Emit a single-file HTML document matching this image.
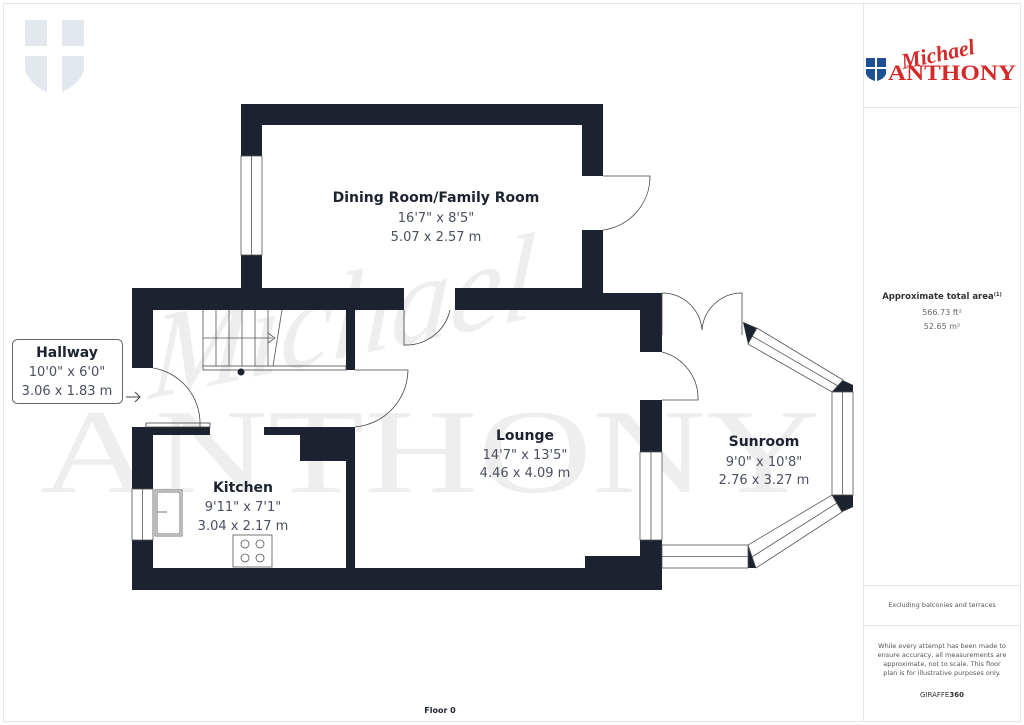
<!DOCTYPE html>
<html><head><meta charset="utf-8"><style>
html,body{margin:0;padding:0;background:#fff;}
svg{display:block;font-family:"DejaVu Sans","Liberation Sans",sans-serif;}
</style></head><body>
<svg width="1024" height="725" viewBox="0 0 1024 725" xmlns="http://www.w3.org/2000/svg">
<rect x="0" y="0" width="1024" height="725" fill="#fff"/>
<rect x="3.5" y="3.5" width="1017" height="718" fill="none" stroke="#e6e6e6"/>
<line x1="863.5" y1="3" x2="863.5" y2="722" stroke="#e6e6e6"/>
<line x1="863" y1="107.5" x2="1021" y2="107.5" stroke="#e6e6e6"/>
<line x1="863" y1="585.5" x2="1021" y2="585.5" stroke="#e6e6e6"/>
<line x1="863" y1="625.5" x2="1021" y2="625.5" stroke="#e6e6e6"/>

<!-- top-left shield watermark -->
<g fill="#e3e8ef">
<rect x="25" y="20" width="22" height="26"/><rect x="62" y="20" width="22" height="26"/>
<path d="M25 56 H47 V92 Q30 85 25 70 Z"/><path d="M62 56 H84 V70 Q79 85 62 92 Z"/>
</g>

<!-- big watermark -->
<g fill="#eeeeee">
<text x="230" y="345" font-family="Liberation Serif,serif" font-style="italic" font-size="120" transform="rotate(-12 400 320) skewX(-15)">Michael</text>
<text x="40" y="492" font-family="Liberation Serif,serif" font-size="120" textLength="780" lengthAdjust="spacingAndGlyphs">ANTHONY</text>
</g>

<!-- walls -->
<g fill="#1c2230">
<rect x="241" y="104" width="362" height="21"/>
<rect x="241" y="104" width="21" height="52"/>
<rect x="241" y="255" width="21" height="50"/>
<rect x="582" y="104" width="21" height="72"/>
<rect x="582" y="230" width="21" height="80"/>
<rect x="132" y="288" width="272" height="22"/>
<rect x="455" y="288" width="148" height="22"/>
<rect x="603" y="293" width="59" height="17"/>
<rect x="640" y="293" width="22" height="59"/>
<rect x="132" y="288" width="21" height="80"/>
<rect x="132" y="427" width="21" height="62"/>
<rect x="132" y="540" width="21" height="50"/>
<rect x="132" y="568" width="530" height="22"/>
<rect x="585" y="556" width="77" height="14"/>
<rect x="640" y="400" width="22" height="52"/>
<rect x="640" y="540" width="22" height="50"/>
<rect x="153" y="427" width="57" height="8"/>
<rect x="264" y="427" width="91" height="8"/>
<rect x="300" y="427" width="55" height="34"/>
<rect x="346" y="427" width="9" height="141"/>
<rect x="346" y="310" width="9" height="60"/>
<polygon points="743,322 757,328 748,344"/>
<polygon points="838,378 853,385 853,398 832,392"/>
<polygon points="832,495 853,495 853,507 842,512"/>
<polygon points="748,545 756,568 748,568"/>
</g>

<!-- windows -->
<g fill="#fff" stroke="#555" stroke-width="0.8">
<rect x="241" y="156" width="21" height="99"/><line x1="251.5" y1="156" x2="251.5" y2="255"/>
<rect x="132" y="489" width="21" height="51"/><line x1="142.5" y1="489" x2="142.5" y2="540"/>
<rect x="640" y="452" width="22" height="88"/><line x1="651" y1="452" x2="651" y2="540"/>
<rect x="662" y="545" width="86" height="23"/><line x1="662" y1="556.5" x2="748" y2="556.5"/>
<rect x="832" y="392" width="21" height="103"/><line x1="842.5" y1="392" x2="842.5" y2="495"/>
<polygon points="757,328 843,380 832,392 748,344"/>
<line x1="752" y1="336" x2="838" y2="386"/>
<polygon points="842,512 832,495 748,545 756,568"/>
<line x1="837" y1="503" x2="752" y2="557"/>
</g>

<!-- doors -->
<g fill="none" stroke="#444" stroke-width="0.8">
<path d="M603 176 H650 A54 54 0 0 1 603 230"/>
<path d="M404 310 V345 A45 45 0 0 0 450 310"/>
<path d="M662 293 V335 M662 293 A40 40 0 0 1 702 330 M742 293 V335 M742 293 A40 40 0 0 0 702 330"/>
<path d="M662 352 A48 48 0 0 1 698 400 H662"/>
<path d="M153 368 A56 56 0 0 1 200 425 V427"/>
<path d="M355 370 H408 A58 58 0 0 1 355 427"/>
<rect x="203" y="366" width="143" height="4"/>
<rect x="146" y="423" width="64" height="4"/>
</g>
<circle cx="241" cy="372" r="3.5" fill="#1c2230"/>

<!-- stairs -->
<g fill="none" stroke="#555" stroke-width="0.8">
<path d="M203 310 V366 M216 310 V366 M229 310 V366 M242 310 V366 M255 310 V366 M268 310 V366 M282 310 L273 366 M203 338 H273 M268 333 L275 338 L268 343"/>
</g>

<!-- kitchen fixtures -->
<g fill="#fff" stroke="#555" stroke-width="0.8">
<rect x="155" y="490" width="27" height="46"/><rect x="157" y="492" width="23" height="42"/>
<line x1="157" y1="512" x2="167" y2="512"/>
<rect x="233" y="535" width="39" height="32"/>
<circle cx="245" cy="544" r="4"/><circle cx="260" cy="544" r="4"/>
<circle cx="245" cy="558" r="4"/><circle cx="260" cy="558" r="4"/>
</g>

<!-- room labels -->
<g text-anchor="middle" fill="#1c2230">
<text x="436" y="202" font-size="14" font-weight="bold">Dining Room/Family Room</text>
<text x="436" y="222" font-size="13" fill="#4a5060">16'7" x 8'5"</text>
<text x="436" y="241" font-size="13" fill="#4a5060">5.07 x 2.57 m</text>
<text x="525" y="440" font-size="14" font-weight="bold">Lounge</text>
<text x="525" y="459" font-size="13" fill="#4a5060">14'7" x 13'5"</text>
<text x="525" y="477" font-size="13" fill="#4a5060">4.46 x 4.09 m</text>
<text x="243" y="492" font-size="14" font-weight="bold">Kitchen</text>
<text x="243" y="511" font-size="13" fill="#4a5060">9'11" x 7'1"</text>
<text x="243" y="530" font-size="13" fill="#4a5060">3.04 x 2.17 m</text>
<text x="764" y="446" font-size="14" font-weight="bold">Sunroom</text>
<text x="764" y="466" font-size="13" fill="#4a5060">9'0" x 10'8"</text>
<text x="764" y="484" font-size="13" fill="#4a5060">2.76 x 3.27 m</text>
</g>
<rect x="12.5" y="339.5" width="110" height="64" rx="5" fill="#fff" stroke="#666"/>
<g text-anchor="middle" fill="#1c2230">
<text x="67" y="357" font-size="14" font-weight="bold">Hallway</text>
<text x="67" y="376" font-size="13" fill="#4a5060">10'0" x 6'0"</text>
<text x="67" y="395" font-size="13" fill="#4a5060">3.06 x 1.83 m</text>
</g>
<path d="M126 397 H140 M135 392 L140 397 L135 402" fill="none" stroke="#444"/>

<text x="440" y="713" font-size="8" font-weight="bold" text-anchor="middle" fill="#1c2230">Floor 0</text>

<!-- logo -->
<g>
<rect x="866" y="58" width="9" height="9" fill="#1f4f95"/><rect x="877" y="58" width="9" height="9" fill="#1f4f95"/>
<path d="M866 69 H875 V81 Q868 79 866 74 Z M877 69 H886 V74 Q884 79 877 81 Z" fill="#1f4f95"/>
<text x="900" y="62" font-family="Liberation Serif,serif" font-style="italic" font-weight="bold" font-size="22" fill="#d42a2a" transform="rotate(-12 935 52)">Michael</text>
<text x="888" y="80" font-family="Liberation Serif,serif" font-weight="bold" font-size="22" fill="#d42a2a" textLength="128" lengthAdjust="spacingAndGlyphs">ANTHONY</text>
</g>

<!-- right panel text -->
<g text-anchor="middle" fill="#333">
<text x="942" y="299" font-size="8.5" font-weight="bold">Approximate total area<tspan font-size="5" dy="-3">(1)</tspan></text>
<text x="942" y="315" font-size="8" fill="#666">566.73 ft²</text>
<text x="942" y="329" font-size="8" fill="#666">52.65 m²</text>
<text x="942" y="607" font-size="6.5" fill="#555">Excluding balconies and terraces</text>
<text x="942" y="648" font-size="6.5" fill="#555">While every attempt has been made to</text>
<text x="942" y="657" font-size="6.5" fill="#555">ensure accuracy, all measurements are</text>
<text x="942" y="666" font-size="6.5" fill="#555">approximate, not to scale. This floor</text>
<text x="942" y="675" font-size="6.5" fill="#555">plan is for illustrative purposes only.</text>
<text x="942" y="697" font-size="7" fill="#333">GIRAFFE<tspan font-weight="bold">360</tspan></text>
</g>
</svg>
</body></html>
